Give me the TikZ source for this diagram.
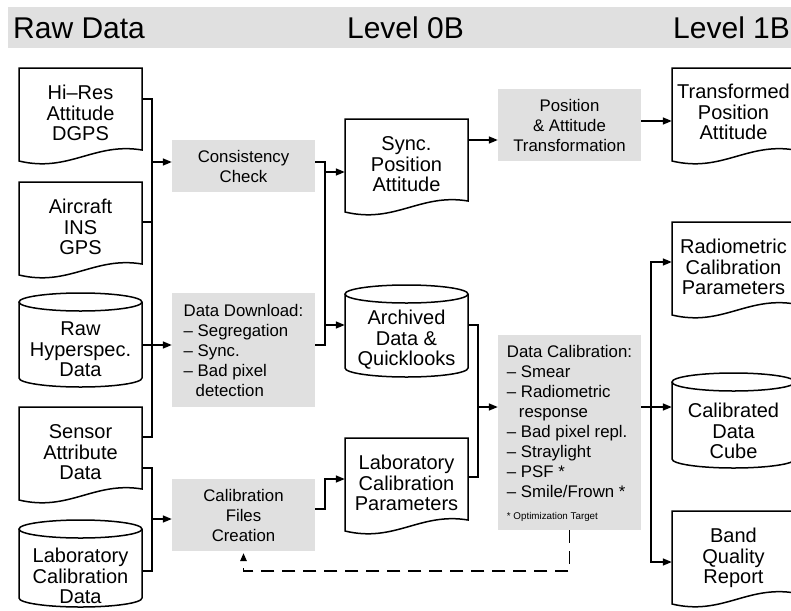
\documentclass[tikz,border=0pt]{standalone}
\usepackage{fontspec}
\setmainfont{Liberation Sans}
\usetikzlibrary{arrows.meta,calc}
\definecolor{boxgray}{RGB}{224,224,224}
\newcommand\tp{\rule{0pt}{0.941em}}
\newcommand\bt{\rule[-0.225em]{0pt}{0.225em}}
\newcommand\docshape[2]{\begin{scope}[shift={(#1,#2)}]
  \draw[outline] (0,0) -- (123,0) -- (123,82) .. controls (75,74) and (50,105) .. (0,93) -- cycle;
\end{scope}}
\newcommand\cylshape[3]{\begin{scope}[shift={(#1,#2)}]
  \draw[outline] (0,9) -- (0,#3-9) .. controls (0,#3-4.03) and (27.54,#3) .. (61.5,#3) .. controls (95.46,#3) and (123,#3-4.03) .. (123,#3-9) -- (123,9);
  \draw[outline] (61.5,9) ellipse [x radius=61.5, y radius=9];
\end{scope}}
\tikzset{
  conn/.style={line width=1.5pt},
  arr/.style={conn,-{Triangle[length=9pt,width=7pt]}},
  dasharr/.style={conn,dash pattern=on 13pt off 8pt,-{Triangle[length=8pt,width=6.5pt]}},
  outline/.style={line width=1.5pt,fill=white},
  doctext/.style={minimum width=123pt,minimum height=90pt,inner sep=0pt,align=center,
    font=\fontsize{20}{20.5}\selectfont},
  proc/.style={fill=boxgray,minimum width=143pt,inner sep=0pt,align=center,
    font=\fontsize{16.8}{20}\selectfont},
  head/.style={font=\fontsize{30}{36}\selectfont,inner sep=0pt},
}
\begin{document}
\begin{tikzpicture}[x=1pt,y=-1pt]
\useasboundingbox (0,0) rectangle (791,610);
\clip (0,0) rectangle (791,610);
% header band
\fill[boxgray] (8,7) rectangle (795,48);
\node[head,anchor=base west] (hraw) at (13,38) {Raw Data};
\node[head,anchor=base] (h0b) at (405.5,38) {Level 0B};
\node[head,anchor=base west] (h1b) at (673,38) {Level 1B};
% outlines
\docshape{19}{68}
\docshape{19}{182}
\cylshape{19}{293}{94}
\docshape{19}{407}
\cylshape{19}{520}{87}
\docshape{345}{119}
\cylshape{345}{285}{92}
\docshape{345}{438}
\docshape{672}{68}
\docshape{672}{222}
\cylshape{672}{373}{95}
\docshape{672}{511}
% text nodes
\node[doctext] (hires) at (80.5,113) {\tp Hi–Res\\Attitude\\DGPS\bt};
\node[doctext] (aircraft) at (80.5,227) {\tp Aircraft\\INS\\GPS\bt};
\node[doctext] (raw) at (80.5,349) {\tp Raw\\Hyperspec.\\Data\bt};
\node[doctext] (sensor) at (80.5,452) {\tp Sensor\\Attribute\\Data\bt};
\node[doctext] (labdata) at (80.5,576) {\tp Laboratory\\Calibration\\Data\bt};
\node[doctext] (sync) at (406.5,164) {\tp Sync.\\Position\\Attitude\bt};
\node[doctext] (arch) at (406.5,338) {\tp Archived\\Data \&\\Quicklooks\bt};
\node[doctext] (labpar) at (406.5,483) {\tp Laboratory\\Calibration\\Parameters\bt};
\node[doctext] (trans) at (733.5,112) {\tp Transformed\\Position\\Attitude\bt};
\node[doctext] (radio) at (733.5,267) {\tp Radiometric\\Calibration\\Parameters\bt};
\node[doctext] (cube) at (733.5,431) {\tp Calibrated\\Data\\Cube\bt};
\node[doctext] (band) at (733.5,556) {\tp Band\\Quality\\Report\bt};
% process boxes
\node[proc,minimum height=52pt] (cons) at (243.5,166) {\tp Consistency\\Check\bt};
\node[proc,minimum height=114pt,align=left] (dl) at (243.5,350)
  {\tp Data Download:\\– Segregation\\– Sync.\\– Bad pixel\\\hspace*{12pt}detection\bt};
\node[proc,minimum height=72pt] (calf) at (243.5,515) {\tp Calibration\\Files\\Creation\bt};
\node[proc,minimum height=72pt] (pat) at (569.5,125) {\tp Position\\\& Attitude\\Transformation\bt};
\node[proc,minimum height=195pt,align=left] (dcal) at (569.5,432.5)
  {\tp Data Calibration:\\– Smear\\– Radiometric\\\hspace*{12pt}response\\– Bad pixel repl.\\– Straylight\\– PSF *\\– Smile/Frown *\\[2.5pt]{\fontsize{9.8}{12}\selectfont * Optimization Target}\bt};
% bus coordinates
\coordinate (busA) at (152,0);
\coordinate (busB) at (325,0);
\coordinate (busC) at (478,0);
\coordinate (busD) at (651,0);
\coordinate (dashy) at (0,571);
% left bus 1
\draw[conn] ([yshift=14pt]hires.east) -| ([yshift=15pt]sensor.east -| busA) -- ([yshift=15pt]sensor.east);
\draw[conn] ([yshift=5pt]aircraft.east) -- ([yshift=5pt]aircraft.east -| busA);
\draw[conn] ([yshift=4pt]raw.east) -- ([yshift=4pt]raw.east -| busA);
\draw[arr] ([yshift=4pt]cons.west -| busA) -- ([yshift=4pt]cons.west);
\draw[arr] ([yshift=5pt]dl.west -| busA) -- ([yshift=5pt]dl.west);
% left bus 2
\draw[conn] ([yshift=-16pt]sensor.east) -| ([yshift=5pt]labdata.east -| busA) -- ([yshift=5pt]labdata.east);
\draw[arr] ([yshift=-4pt]calf.west -| busA) -- ([yshift=-4pt]calf.west);
% middle bus
\draw[conn] ([yshift=4pt]cons.east) -| ([yshift=5pt]dl.east -| busB) -- ([yshift=5pt]dl.east);
\draw[arr] ([yshift=-8pt]sync.west -| busB) -- ([yshift=-8pt]sync.west);
\draw[arr] ([yshift=13pt]arch.west -| busB) -- ([yshift=13pt]arch.west);
\draw[arr] ([yshift=6pt]calf.east) -| ([yshift=4pt]labpar.west -| busB) -- ([yshift=4pt]labpar.west);
% top row
\draw[arr] ([yshift=24pt]sync.east) -- ([yshift=24pt]sync.east -| pat.west);
\draw[arr] ([yshift=4pt]pat.east) -- ([yshift=4pt]pat.east -| trans.west);
% calibration bus
\draw[conn] ([yshift=13pt]arch.east) -| ([yshift=6pt]labpar.east -| busC) -- ([yshift=6pt]labpar.east);
\draw[arr] ([yshift=25.5pt]dcal.west -| busC) -- ([yshift=25.5pt]dcal.west);
% outputs
\draw[arr] ([yshift=25.5pt]dcal.east) -- ([yshift=25.5pt]dcal.east -| cube.west);
\draw[arr] ([yshift=-6pt]band.west -| busD) |- ([yshift=5pt]radio.west);
\draw[arr] ([yshift=5pt]radio.west -| busD) |- ([yshift=-6pt]band.west);
% feedback
\draw[dasharr] (dcal.south) -- (dcal.south |- dashy) -| ([yshift=-2pt]calf.south);
\end{tikzpicture}
\end{document}
